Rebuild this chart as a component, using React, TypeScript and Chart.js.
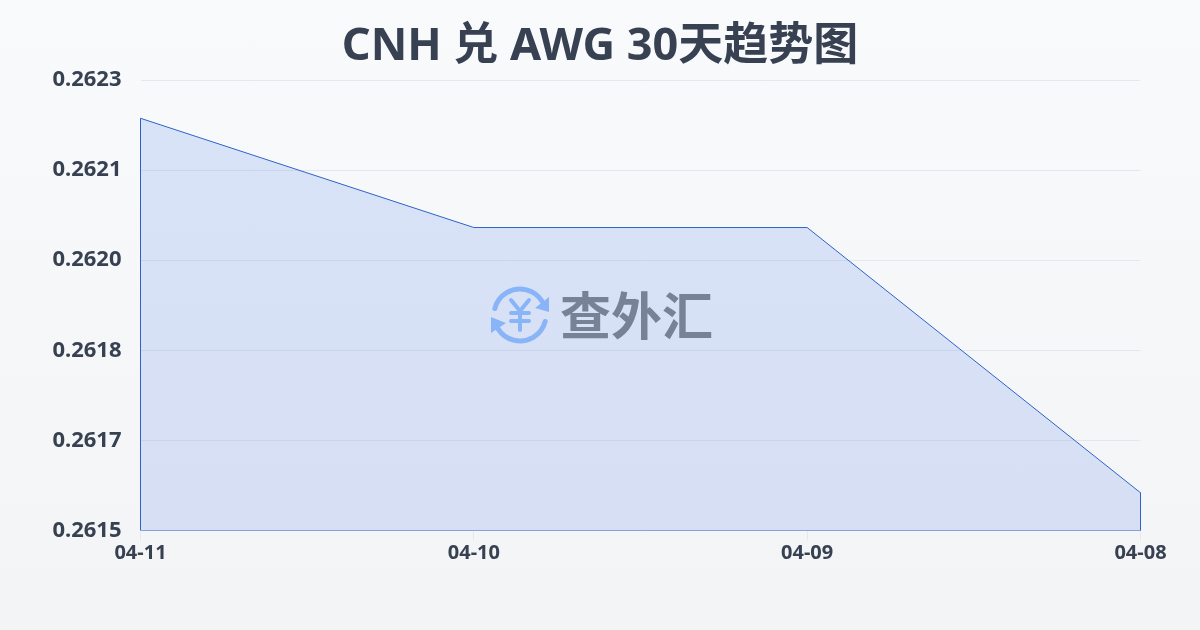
import React, { useEffect, useRef } from 'react'
import { Chart, registerables } from 'chart.js'

Chart.register(...registerables)

const titleText = 'CNH 兑 AWG 30天趋势图'
const dates = ['04-11', '04-10', '04-09', '04-08']
const rates = [0.262232, 0.262038, 0.262038, 0.261567]
const yTickValues = [0.2615, 0.26166, 0.26182, 0.26198, 0.26214, 0.2623]
const yMin = 0.2615
const yMax = 0.2623

const fontFamily = '"Noto Sans", "Noto Sans CJK SC", sans-serif'
const textColor = '#374151'

// closed outline: down the left side, along the rates, back along the baseline
const outline = [
  { x: dates[0], y: yMin },
  ...dates.map((d, i) => ({ x: d, y: rates[i] })),
  { x: dates[dates.length - 1], y: yMin },
  { x: dates[0], y: yMin },
]

const watermark = {
  id: 'watermark',
  afterDatasetsDraw(chart: Chart) {
    const ctx = chart.ctx
    const cx = 520
    const cy = 315
    const blue = '#8ab4f8'
    ctx.save()
    ctx.strokeStyle = blue
    ctx.fillStyle = blue
    ctx.lineWidth = 5
    ctx.lineCap = 'round'
    ctx.beginPath()
    ctx.arc(cx, cy, 26, Math.PI * 1.08, Math.PI * 1.82)
    ctx.stroke()
    ctx.beginPath()
    ctx.arc(cx, cy, 26, Math.PI * 0.08, Math.PI * 0.82)
    ctx.stroke()
    ctx.beginPath()
    ctx.moveTo(549, 297)
    ctx.lineTo(549, 312)
    ctx.lineTo(535, 308)
    ctx.closePath()
    ctx.fill()
    ctx.beginPath()
    ctx.moveTo(491, 333)
    ctx.lineTo(491, 317)
    ctx.lineTo(506, 323)
    ctx.closePath()
    ctx.fill()
    ctx.lineWidth = 4
    ctx.beginPath()
    ctx.moveTo(511, 300)
    ctx.lineTo(520, 311)
    ctx.lineTo(529, 300)
    ctx.moveTo(520, 311)
    ctx.lineTo(520, 330)
    ctx.moveTo(511, 313)
    ctx.lineTo(529, 313)
    ctx.moveTo(511, 321)
    ctx.lineTo(529, 321)
    ctx.stroke()
    ctx.fillStyle = '#788296'
    ctx.font = 'bold 51px "Noto Sans CJK SC"'
    ctx.textAlign = 'left'
    ctx.textBaseline = 'middle'
    ctx.fillText('查外汇', 560, 316)
    ctx.restore()
  },
}

export default function App() {
  const chartRef = useRef<HTMLCanvasElement | null>(null)

  useEffect(() => {
    document.body.style.margin = '0'
    if (!chartRef.current) return

    const chart = new Chart(chartRef.current, {
      type: 'line',
      data: {
        labels: dates,
        datasets: [
          {
            data: rates,
            borderWidth: 0,
            backgroundColor: 'rgba(45, 100, 225, 0.15)',
            fill: 'origin',
            pointRadius: 0,
            tension: 0,
          },
          {
            data: outline as any,
            borderColor: '#2f62c8',
            borderWidth: 1,
            fill: false,
            pointRadius: 0,
            tension: 0,
          },
        ],
      },
      options: {
        responsive: false,
        animation: false,
        plugins: {
          legend: { display: false },
          tooltip: { enabled: false },
          title: {
            display: true,
            text: titleText,
            color: textColor,
            font: { family: fontFamily, size: 45, weight: 'bold' },
            padding: { top: 20, bottom: 6 },
          },
        },
        scales: {
          x: {
            offset: false,
            border: { display: false },
            grid: { drawOnChartArea: false, drawTicks: true, tickLength: 10, color: 'rgba(226, 232, 240, 0.9)' },
            ticks: {
              color: textColor,
              padding: 1,
              maxRotation: 0,
              font: { family: fontFamily, size: 20, weight: 'bold' },
            },
            afterFit(scale) {
              scale.height = 99.5
            },
          },
          y: {
            min: yMin,
            max: yMax,
            border: { display: false },
            grid: { color: 'rgba(203, 213, 225, 0.45)', drawTicks: false },
            afterBuildTicks(scale) {
              scale.ticks = yTickValues.map(value => ({ value }))
            },
            ticks: {
              color: textColor,
              padding: 19,
              font: { family: fontFamily, size: 22, weight: 'bold' },
              callback: value => Number(value).toFixed(4),
            },
            afterFit(scale) {
              scale.width = 140.5
            },
          },
          // empty right axis only keeps the title centred on the whole canvas
          yRight: {
            display: true,
            position: 'right',
            border: { display: false },
            grid: { display: false },
            ticks: { display: false },
            afterFit(scale) {
              scale.width = 59.5
            },
          },
        },
      },
      plugins: [watermark],
    })

    return () => {
      chart.destroy()
    }
  }, [])

  return (
    <div style={{ width: 1200, height: 630, background: 'linear-gradient(180deg, #f8fafc 0%, #f3f4f6 100%)' }}>
      <canvas ref={chartRef} width={1200} height={630} style={{ display: 'block' }} />
    </div>
  )
}
